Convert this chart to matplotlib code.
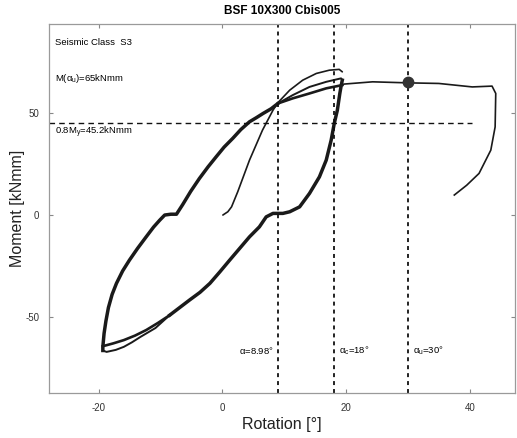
import matplotlib
matplotlib.use("Agg")
import matplotlib.pyplot as plt

plt.rcParams['font.family'] = ['Liberation Sans', 'DejaVu Sans']
plt.rcParams['mathtext.fontset'] = 'custom'
plt.rcParams['mathtext.rm'] = 'Liberation Sans'
plt.rcParams['mathtext.it'] = 'Liberation Sans'
plt.rcParams['axes.unicode_minus'] = False

# --- measured moment-rotation response (rotation in degrees, moment in kNmm) ---
# first monotonic loading from rest up to the first reversal
load0_rot = [0.1, 0.9, 1.5, 2.5, 4.4, 6.5, 8.2, 9.0, 10.9, 13.0, 15.2, 17.3, 18.9, 19.4]
load0_mom = [-0.1, 1.5, 3.9, 11.3, 26.8, 41.5, 51.3, 55.0, 61.1, 66.0, 69.3, 70.9, 71.3, 70.1]

# unloading branch (shared by both reversals down to about -8.5 deg)
unload_rot = [19.4, 19.2, 19.0, 18.6, 18.1, 17.6, 16.8, 15.7, 14.1, 12.5, 10.9, 9.8,
              8.2, 7.1, 6.0, 4.4, 2.8, 1.2, -0.4, -2.0, -3.6, -5.3, -6.9, -8.5]
unload_mom = [66.0, 63.0, 59.5, 51.3, 44.8, 36.6, 26.8, 18.6, 10.5, 3.9, 1.5, 0.7,
              0.7, -1.0, -5.9, -10.8, -16.5, -22.2, -28.0, -33.6, -38.0, -41.8, -45.5, -49.2]

# tails of the two unloading branches towards the negative peak
tail1_rot = [-8.5, -10.8, -13.2, -14.6, -15.9, -17.2, -18.7, -19.3]
tail1_mom = [-49.2, -55.5, -59.8, -62.5, -64.7, -66.2, -67.2, -66.5]
tail2_rot = [-8.5, -10.4, -12.3, -14.1, -15.9, -17.6, -19.3]
tail2_mom = [-49.2, -53.0, -56.5, -59.2, -61.4, -63.0, -64.4]

# reloading branch from the negative peak up to the common crossing point
reload_rot = [-19.3, -19.3, -19.1, -18.8, -18.4, -17.8, -17.1, -16.1, -15.0, -13.7, -12.3,
              -11.1, -10.1, -9.3, -8.3, -7.4, -6.4, -5.1, -3.7, -2.3, -1.0, 0.3,
              1.7, 3.0, 4.4, 5.5, 6.6, 7.9, 9.0]
reload_mom = [-66.5, -64.7, -58.1, -52.0, -45.5, -39.0, -33.6, -27.5, -22.2, -16.5, -10.8,
              -6.0, -2.6, -0.1, 0.3, 0.3, 5.0, 11.5, 17.8, 23.5, 28.4, 33.2,
              37.5, 41.8, 45.6, 47.6, 49.7, 52.0, 54.6]

# upper ends of the second and third loading cycles
cyc2_rot = [9.0, 11.4, 14.1, 16.8, 19.2, 19.4]
cyc2_mom = [54.6, 58.7, 62.7, 65.2, 66.9, 66.0]
cyc3_rot = [9.0, 11.4, 14.1, 16.8, 19.4]
cyc3_mom = [54.6, 57.1, 59.5, 62.0, 63.6]

# final monotonic push to failure
final_rot = [19.4, 19.7, 24.3, 29.9, 35.0, 40.4, 43.6, 44.2, 44.1, 43.4, 41.5, 39.5, 37.5]
final_mom = [63.6, 64.1, 65.2, 64.7, 64.4, 62.7, 63.1, 59.5, 43.1, 31.7, 20.3, 14.5, 9.7]

# characteristic values
alpha_y, alpha_c, alpha_u = 8.98, 18.0, 30.0
m_alpha_u = 65.0
m_08y = 45.2

x_ticks = [-20, 0, 20, 40]
y_ticks = [-50, 0, 50]

fig = plt.figure(figsize=(5.17, 4.38), dpi=100)
ax = fig.add_axes([0.0948, 0.102, 0.9012, 0.843])
ax.set_xlim(-28.0, 47.3)
ax.set_ylim(-87.5, 93.5)

ink = '#1a1a1a'
thick = 1.9
thin = 1.2

ax.plot(load0_rot, load0_mom, color=ink, lw=thin, solid_capstyle='round')
ax.plot(unload_rot, unload_mom, color=ink, lw=thick + 0.6, solid_joinstyle='round')
ax.plot(tail1_rot, tail1_mom, color=ink, lw=thin + 0.2)
ax.plot(tail2_rot, tail2_mom, color=ink, lw=thick)
ax.plot(reload_rot, reload_mom, color=ink, lw=thick + 0.6, solid_joinstyle='round')
ax.plot(cyc2_rot, cyc2_mom, color=ink, lw=thin + 0.2)
ax.plot(cyc3_rot, cyc3_mom, color=ink, lw=thick)
ax.plot(final_rot, final_mom, color=ink, lw=thin, solid_joinstyle='round')

# reference lines
for a in (alpha_y, alpha_c, alpha_u):
    ax.axvline(a, color='#111111', lw=1.3, ls=(0, (2.2, 2.2)))
ax.plot([-28.0, 40.3], [m_08y, m_08y], color='#111111', lw=1.0, ls=(0, (4, 3)))

ax.plot([alpha_u], [m_alpha_u], 'o', color='#333333', ms=7.5, zorder=5)

# annotations
fs = 6.8
ax.text(-27.0, 84.5, 'Seismic Class  S3', fontsize=fs, va='center', ha='left')
ax.text(-27.0, 67.0, r'M($\alpha_{u}$)=65kNmm', fontsize=fs, va='center', ha='left')
ax.text(-27.0, 40.5, r'0.8M$_{y}$=45.2kNmm', fontsize=fs, va='center', ha='left')
ax.text(alpha_y - 0.6, -66.5, r'$\alpha$=8.98$\degree$', fontsize=fs, va='center', ha='right')
ax.text(alpha_c + 0.8, -66.5, r'$\alpha_{c}$=18$\degree$', fontsize=fs, va='center', ha='left')
ax.text(alpha_u + 0.8, -66.5, r'$\alpha_{u}$=30$\degree$', fontsize=fs, va='center', ha='left')

ax.set_xticks(x_ticks)
ax.set_yticks(y_ticks)
ax.tick_params(direction='in', length=3, width=0.8, colors='#888888',
               labelcolor='#333333', labelsize=7, top=True, right=True, pad=7)
for s in ax.spines.values():
    s.set_color('#9a9a9a')
    s.set_linewidth(0.9)

ax.set_xlabel('Rotation [°]', fontsize=11.5, color='#222222', labelpad=3)
ax.set_ylabel('Moment [kNmm]', fontsize=11.5, color='#222222', labelpad=0)
ax.set_title('BSF 10X300 Cbis005', fontsize=8.5, fontweight='bold', pad=7)

fig.savefig('out.png', dpi=100)
